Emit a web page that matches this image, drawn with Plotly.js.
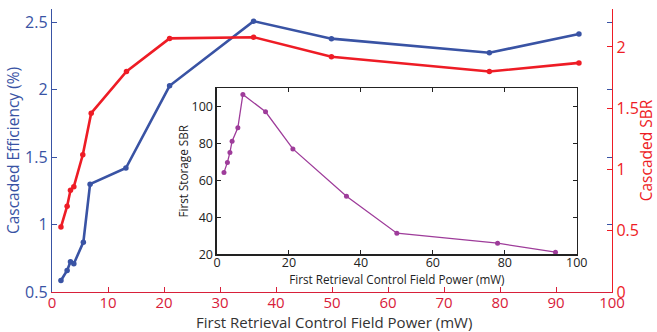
<!DOCTYPE html>
<html><head><meta charset="utf-8">
<script src="https://cdn.plot.ly/plotly-3.0.1.min.js"></script>
<style>html,body{margin:0;padding:0;background:#fff}#chart{width:657px;height:332px}</style>
</head><body><div id="chart"></div>
<script>
// Main chart: cascaded efficiency (left axis) and cascaded SBR (right axis)
const powerMain = [1.6, 2.7, 3.3, 3.9, 5.6, 6.8, 13.2, 21.0, 36.0, 49.9, 78.1, 94.1];
const efficiency = [0.585, 0.66, 0.725, 0.71, 0.87, 1.30, 1.42, 2.03, 2.51, 2.38, 2.275, 2.415];
const powerSBR = [1.6, 2.7, 3.3, 3.9, 5.5, 7.0, 13.3, 21.0, 36.0, 49.9, 78.1, 94.1];
const cascadedSBR = [0.53, 0.70, 0.83, 0.86, 1.12, 1.46, 1.80, 2.07, 2.08, 1.92, 1.80, 1.87];
// Inset: first storage SBR
const powerInset = [1.95, 2.9, 3.6, 4.2, 5.8, 7.2, 13.5, 21.1, 36.0, 50.0, 78.0, 94.1];
const firstSBR = [64.3, 69.7, 75.1, 81.2, 88.4, 106.5, 97.1, 77.0, 51.4, 31.4, 26.0, 21.1];

const xTicks = [0,10,20,30,40,50,60,70,80,90,100];
const yLeftTicks = [0.5,1,1.5,2,2.5];
const yLeftLabels = ['0.5','1','1.5','2','2.5'];
const yRightTicks = [0,0.5,1,1.5,2];
const yRightLabels = ['0','0.5','1','1.5','2'];
const insetXTicks = [0,20,40,60,80,100];
const insetYTicks = [20,40,60,80,100];
const xTitle = 'First Retrieval Control Field Power (mW)';

const BLUE = '#3953a4', RED = '#ee1c25', PURPLE = '#9e3c9a', XRED = '#d8203a';
const FONT = 'Open Sans, sans-serif';

const traces = [
  {x: powerMain, y: efficiency, xaxis:'x', yaxis:'y', mode:'lines+markers',
   line:{color:BLUE, width:2.6}, marker:{color:BLUE, size:5.5}, hoverinfo:'skip'},
  {x: powerSBR, y: cascadedSBR, xaxis:'x', yaxis:'y2', mode:'lines+markers',
   line:{color:RED, width:2.6}, marker:{color:RED, size:5.5}, hoverinfo:'skip'},
  {x: powerInset, y: firstSBR, xaxis:'x2', yaxis:'y3', mode:'lines+markers',
   line:{color:PURPLE, width:1.3}, marker:{color:PURPLE, size:5}, hoverinfo:'skip'}
];

const layout = {
  width:657, height:332,
  margin:{l:52, r:45, t:9, b:40},
  paper_bgcolor:'#fff', plot_bgcolor:'rgba(0,0,0,0)',
  showlegend:false,
  font:{family:FONT, color:'#333'},
  xaxis:{range:[0,100], domain:[0,1], tickvals:xTicks, ticks:'inside', ticklen:5, tickcolor:XRED,
    showline:true, linecolor:XRED, linewidth:1.2, showgrid:false, zeroline:false,
    tickfont:{size:15, color:XRED, family:FONT}, ticklabelstandoff:-3},
  xaxis3:{range:[0,100], overlaying:'x', anchor:'y', side:'top', tickvals:xTicks, ticks:'inside', ticklen:5,
    tickcolor:BLUE, showline:true, linecolor:BLUE, linewidth:1.2, showticklabels:false, showgrid:false, zeroline:false},
  yaxis:{range:[0.5,2.6], tickvals:yLeftTicks, ticktext:yLeftLabels, ticks:'inside', ticklen:5, tickcolor:BLUE,
    showline:true, linecolor:BLUE, linewidth:1.2, mirror:'ticks', showgrid:false, zeroline:false,
    tickfont:{size:16, color:BLUE, family:FONT},
    title:{text:'Cascaded Efficiency (%)', font:{size:15.5, color:BLUE, family:FONT}, standoff:1}},
  yaxis2:{range:[0,2.31], overlaying:'y', side:'right', anchor:'x', tickvals:yRightTicks, ticktext:yRightLabels,
    ticks:'inside', ticklen:5, tickcolor:RED, showline:true, linecolor:RED, linewidth:1.2, showgrid:false, zeroline:false,
    tickfont:{size:16, color:RED, family:FONT},
    title:{text:'Cascaded SBR', font:{size:15.5, color:RED, family:FONT}, standoff:1}},
  xaxis2:{domain:[0.2946,0.937], anchor:'y3', range:[0,100], tickvals:insetXTicks, ticks:'inside', ticklen:4,
    tickcolor:'#222', showline:true, linecolor:'#222', linewidth:1.5, mirror:'ticks', showgrid:false, zeroline:false,
    tickfont:{size:12.5, color:'#222', family:FONT}, ticklabelstandoff:-4,
    title:{text:xTitle, font:{size:11.7, color:'#222', family:FONT}, standoff:0}},
  yaxis3:{domain:[0.1334,0.7195], anchor:'x2', range:[20,109.75], tickvals:insetYTicks, ticks:'inside', ticklen:4,
    tickcolor:'#222', showline:true, linecolor:'#222', linewidth:1.5, mirror:'ticks', showgrid:false, zeroline:false,
    tickfont:{size:12.5, color:'#222', family:FONT}, ticklabelstandoff:0,
    title:{text:'First Storage SBR', font:{size:11.7, color:'#222', family:FONT}, standoff:0}},
  annotations:[{text:xTitle, xref:'paper', yref:'paper', x:0.5036, y:-0.106, xanchor:'center', yanchor:'middle',
    showarrow:false, font:{size:15, color:'#333', family:FONT}}],
  shapes:[{type:'rect', xref:'x2 domain', yref:'y3 domain', x0:0, x1:1, y0:0, y1:1,
    fillcolor:'#fff', line:{width:0}, layer:'below'}]
};

Plotly.newPlot('chart', traces, layout, {displayModeBar:false, staticPlot:true});
</script></body></html>
